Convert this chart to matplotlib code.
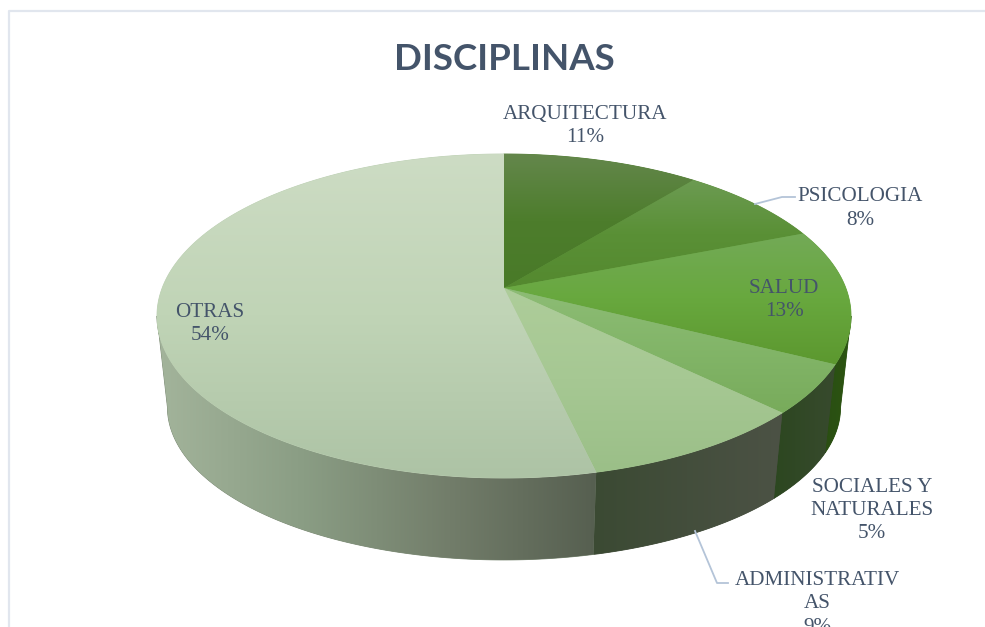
import numpy as np
import matplotlib
matplotlib.use("Agg")
import matplotlib.pyplot as plt
from matplotlib.colors import LinearSegmentedColormap, to_rgb
from matplotlib.patches import Polygon

title = "DISCIPLINAS"
categories = ["ARQUITECTURA", "PSICOLOGIA", "SALUD", "SOCIALES Y\nNATURALES", "ADMINISTRATIV\nAS", "OTRAS"]
values = [10.8, 8.2, 13.4, 4.9, 9.1, 53.6]
percent_labels = ["11%", "8%", "13%", "5%", "9%", "54%"]

# styles: vertical gradient of each top face, horizontal gradient of each side
top_colors = [
    ["#64874c", "#4d7d2c", "#497a28"],
    ["#6c9b52", "#5a9036", "#54892f"],
    ["#73aa57", "#68a83e", "#5c982f"],
    ["#8dbc75", "#82b568", "#78ab5b"],
    ["#aecd9a", "#a6c893", "#9bbf88"],
    ["#cddcc4", "#c0d4b6", "#adc3a5"],
]
side_colors = [
    ["#2b4f14", "#2b4f14"],
    ["#2b4f14", "#2b4f14"],
    ["#2a4e13", "#2c5511"],
    ["#2c4720", "#384a2e"],
    ["#3b4a33", "#4c5245"],
    ["#a3b49b", "#8a9d84", "#727d6a", "#565f50"],
]
text_color = "#44546a"
leader_color = "#b4c4d8"
border_color = "#e1e6ee"

# layout in pixels
W, H = 985, 627
CX = 504
C = 0.1728
TOP = dict(k=341.8, a=-107.4, b=288.0)
LOW = dict(k=331.5, a=-82.6, b=380.6)
label_xy = [(585, 126), (860, 208.5), (784, 300), (872, 510.5), (817, 604), (210, 324)]
leaders = {1: [(755, 204), (782, 197), (795, 197)], 4: [(695, 531), (717, 583), (728, 583)]}


def project(theta, g):
    """Clockwise angle from the top (radians) -> pixel position on a perspective disc."""
    u, v = np.sin(theta), np.cos(theta)
    d = 1 + C * v
    return CX + g["k"] * u / d, (g["a"] * v + g["b"]) / d


def gradient_patch(ax, pts, colors, horizontal, z):
    mid = np.mean([to_rgb(c) for c in colors], axis=0)
    ax.add_patch(Polygon(pts, closed=True, facecolor=mid, edgecolor=mid, lw=0.6, zorder=z))
    clip = Polygon(pts, closed=True, facecolor="none", edgecolor="none", zorder=z,
                   transform=ax.transData)
    ax.add_patch(clip)
    cmap = LinearSegmentedColormap.from_list("g", colors)
    ramp = np.linspace(0, 1, 256)
    arr = ramp[None, :] if horizontal else ramp[:, None]
    im = ax.imshow(arr, cmap=cmap, vmin=0, vmax=1, aspect="auto",
                   extent=(pts[:, 0].min(), pts[:, 0].max(), pts[:, 1].max(), pts[:, 1].min()),
                   interpolation="bilinear", zorder=z + 0.1)
    im.set_clip_path(clip)


plt.rcParams["font.family"] = ["Liberation Serif", "DejaVu Sans"]
fig = plt.figure(figsize=(W / 100, H / 100), dpi=100)
ax = fig.add_axes([0, 0, 1, 1])
ax.axis("off")

ax.plot([W, 8.5, 8.5], [10.5, 10.5, H], color=border_color, lw=1.6, zorder=1)

cum = np.concatenate([[0], np.cumsum(values)]) / np.sum(values) * 2 * np.pi
# silhouette of the perspective disc: where its width is greatest
vis0 = np.pi / 2 + np.arcsin(C)
vis1 = 3 * np.pi / 2 - np.arcsin(C)

# sides
for i in range(len(values)):
    t0, t1 = max(cum[i], vis0), min(cum[i + 1], vis1)
    if t1 <= t0:
        continue
    t = np.linspace(t0, t1, 200)
    xa, ya = project(t, TOP)
    xb, yb = project(t, LOW)
    pts = np.column_stack([np.r_[xa, xb[::-1]], np.r_[ya, yb[::-1]]])
    gradient_patch(ax, pts, side_colors[i], True, 2)

# top faces
for i in range(len(values)):
    t = np.linspace(cum[i], cum[i + 1], 300)
    xa, ya = project(t, TOP)
    pts = np.column_stack([np.r_[CX, xa], np.r_[TOP["b"], ya]])
    gradient_patch(ax, pts, top_colors[i], False, 3)

for i, pts in leaders.items():
    xs, ys = zip(*pts)
    ax.plot(xs, ys, color=leader_color, lw=1.3, zorder=4)

for cat, pct, (x, y) in zip(categories, percent_labels, label_xy):
    ax.text(x, y, f"{cat}\n{pct}", ha="center", va="center", fontsize=15.2, color=text_color,
            linespacing=1.3, zorder=5)

ax.text(504, 60, title, ha="center", va="center", fontsize=26.4, fontweight="bold",
        family=["Lato", "DejaVu Sans"], color=text_color, zorder=5)

ax.set_xlim(0, W)
ax.set_ylim(H, 0)
fig.savefig("out.png", dpi=100, facecolor="white")
